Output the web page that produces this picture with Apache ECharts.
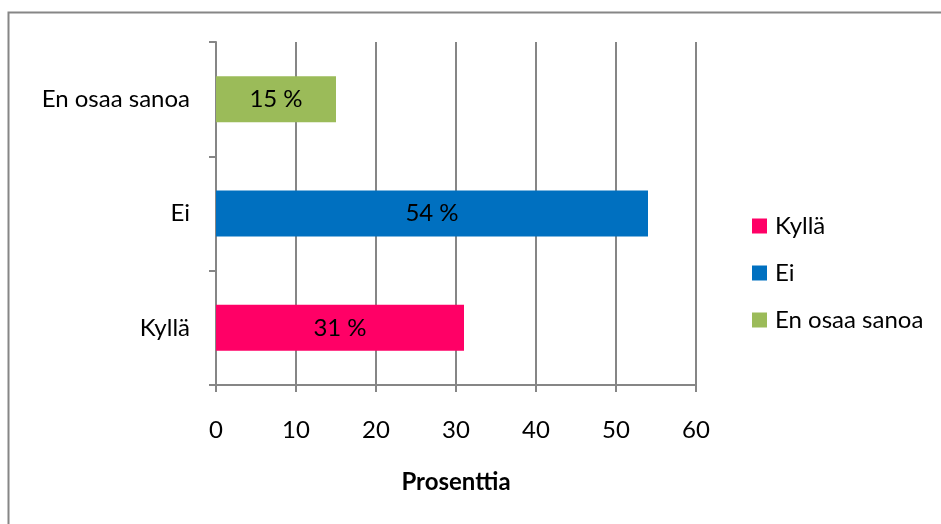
<!DOCTYPE html>
<html>
<head>
<meta charset="utf-8">
<script src="https://cdn.jsdelivr.net/npm/echarts@6/dist/echarts.min.js"></script>
<style>
  html, body { margin: 0; padding: 0; background: #fff; }
  #chart { width: 941px; height: 524px; }
</style>
</head>
<body>
<div id="chart"></div>
<script>
// Survey answers, share of respondents (%)
const categories = ['Kyllä', 'Ei', 'En osaa sanoa'];
const values = [31, 54, 15];
const colors = ['#FF0066', '#0070C0', '#9BBB59'];
const xTicks = { min: 0, max: 60, interval: 10 };

const font = 'Lato, "Open Sans", sans-serif';
const fontSize = 24;
const grey = '#868686';

// One series per answer so each gets its own legend entry;
// stacking keeps every bar centred on its own category.
const series = categories.map((name, i) => ({
  name: name,
  type: 'bar',
  stack: 'answers',
  barWidth: 46,
  itemStyle: { color: colors[i] },
  label: {
    show: true,
    position: 'inside',
    color: '#000',
    fontFamily: font,
    fontSize: fontSize,
    formatter: p => p.value + ' %'
  },
  data: categories.map((c, j) => (j === i ? values[i] : '-'))
}));

const chart = echarts.init(document.getElementById('chart'), null, { renderer: 'canvas' });
chart.setOption({
  animation: false,
  backgroundColor: '#fff',
  textStyle: { fontFamily: font },
  graphic: [{
    type: 'polyline',
    shape: { points: [[8.5, 524], [8.5, 12.5], [941, 12.5]] },
    style: { stroke: grey, lineWidth: 2, fill: null },
    silent: true
  }],
  grid: { left: 216, right: 245, top: 42, bottom: 139 },
  legend: {
    orient: 'vertical',
    left: 747,
    top: 209,
    itemWidth: 15,
    itemHeight: 15,
    itemGap: 23,
    icon: 'rect',
    textStyle: { fontFamily: font, fontSize: fontSize, color: '#000', padding: [0, 0, 0, 3] },
    data: categories
  },
  xAxis: {
    type: 'value',
    min: xTicks.min,
    max: xTicks.max,
    interval: xTicks.interval,
    name: 'Prosenttia',
    nameLocation: 'middle',
    nameGap: 85,
    nameTextStyle: { fontFamily: font, fontSize: fontSize, fontWeight: 'bold', color: '#000' },
    axisLine: { show: true, lineStyle: { color: grey, width: 2 } },
    axisTick: { show: true, length: 7, lineStyle: { color: grey, width: 2 } },
    axisLabel: { margin: 33, fontFamily: font, fontSize: fontSize, color: '#000' },
    splitLine: { show: true, lineStyle: { color: grey, width: 2 } }
  },
  yAxis: {
    type: 'category',
    data: categories,
    axisLine: { show: true, lineStyle: { color: grey, width: 2 } },
    axisTick: { show: true, length: 7, alignWithLabel: false, lineStyle: { color: grey, width: 2 } },
    axisLabel: { margin: 26, fontFamily: font, fontSize: fontSize, color: '#000' },
    splitLine: { show: false }
  },
  series: series
});
</script>
</body>
</html>
